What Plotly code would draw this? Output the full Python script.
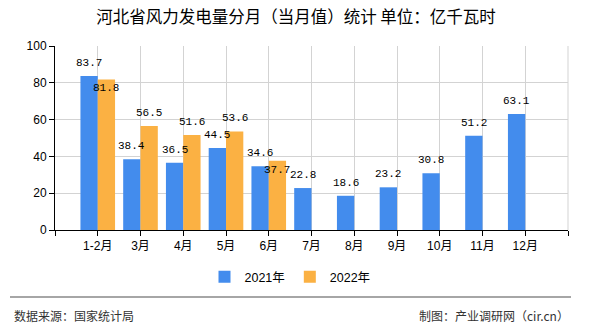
import plotly.graph_objects as go

months = ["1-2月", "3月", "4月", "5月", "6月", "7月", "8月", "9月", "10月", "11月", "12月"]
v2021 = [83.7, 38.4, 36.5, 44.5, 34.6, 22.8, 18.6, 23.2, 30.8, 51.2, 63.1]
v2022 = [81.8, 56.5, 51.6, 53.6, 37.7, None, None, None, None, None, None]
# labels of 2022 drawn inside the bar top (to avoid overlap)
inside_2022 = ["1-2月", "6月"]

title_text = "河北省风力发电量分月（当月值）统计 单位：亿千瓦时"
source_text = "数据来源：国家统计局"
maker_text = "制图：产业调研网（cir.cn）"
y_ticks = [0, 20, 40, 60, 80, 100]

BLUE = "#438CED"
ORANGE = "#FBB143"
W, H = 590, 330
L, R, T, B = 55, 568, 46, 230

def px(x):
    return (x - L) / (R - L)

def py(y):
    return (B - y) / (B - T)

xs = list(range(len(months)))
CJK = "Noto Sans CJK SC"
LAB = "Liberation Mono, DejaVu Sans Mono, monospace"

fig = go.Figure()
fig.add_trace(go.Bar(x=xs, y=v2021, name="2021年", marker_color=BLUE, marker_line_width=0))
fig.add_trace(go.Bar(x=xs, y=v2022, name="2022年", marker_color=ORANGE, marker_line_width=0))

ann = []
half = (R - L) / 12 * 0.81 / 4
for i, m in enumerate(months):
    if v2021[i] is not None:
        ann.append(dict(x=i, y=v2021[i], xref="x", yref="y", text=f"{v2021[i]:.1f}",
                        showarrow=False, xshift=-half, yshift=13, yanchor="middle",
                        font=dict(family=LAB, size=11, color="#000")))
    if v2022[i] is not None:
        ys = -9 if m in inside_2022 else 13
        ann.append(dict(x=i, y=v2022[i], xref="x", yref="y", text=f"{v2022[i]:.1f}",
                        showarrow=False, xshift=half, yshift=ys, yanchor="middle",
                        font=dict(family=LAB, size=11, color="#000")))

ann.append(dict(x=px(12), y=py(315), xref="paper", yref="paper", text=source_text,
                showarrow=False, xanchor="left", yanchor="middle",
                font=dict(family=CJK, size=12, color="#333")))
ann.append(dict(x=px(571), y=py(315), xref="paper", yref="paper", text=maker_text,
                showarrow=False, xanchor="right", yanchor="middle",
                font=dict(family=CJK, size=12, color="#333")))

shapes = [
    dict(type="line", xref="paper", yref="paper", x0=1, x1=1, y0=0, y1=1,
         line=dict(color="#d3d3d3", width=1)),
    dict(type="line", xref="paper", yref="paper", x0=px(10), x1=px(571), y0=py(297), y1=py(297),
         line=dict(color="#888", width=1.5)),
]

fig.update_layout(
    width=W, height=H,
    margin=dict(l=L, r=W - R, t=T, b=H - B),
    paper_bgcolor="white", plot_bgcolor="white",
    barmode="group", bargap=0.19, bargroupgap=0,
    font=dict(family="Liberation Sans, " + CJK, size=12, color="#000"),
    title=dict(text=title_text, x=296 / W, xref="container", xanchor="center",
               y=1 - 17 / H, yref="container", yanchor="middle",
               font=dict(family=CJK, size=16.5, color="#000", weight="normal")),
    legend=dict(orientation="h", x=px(290), xanchor="center", y=py(277), yanchor="middle",
                font=dict(family="Liberation Sans, " + CJK, size=12.5, color="#000"),
                itemwidth=30, traceorder="normal"),
    annotations=ann, shapes=shapes,
    hovermode=False,
)
fig.update_xaxes(
    range=[-1, len(months)], tickmode="array",
    tickvals=[-1] + xs + [len(months)], ticktext=[""] + months + [""],
    showline=True, linecolor="#000", linewidth=1,
    ticks="outside", ticklen=5, tickcolor="#000",
    showgrid=True, gridcolor="#d3d3d3", gridwidth=1, zeroline=False,
    tickfont=dict(family="Liberation Sans, " + CJK, size=12, color="#000"),
)
fig.update_yaxes(
    range=[0, 100], tickmode="array", tickvals=y_ticks,
    showline=True, linecolor="#000", linewidth=1,
    ticks="outside", ticklen=5, tickcolor="#000",
    showgrid=True, gridcolor="#d3d3d3", gridwidth=1, zeroline=False,
    tickfont=dict(family="Liberation Sans", size=12, color="#000"),
)

fig.write_html("out.html")
